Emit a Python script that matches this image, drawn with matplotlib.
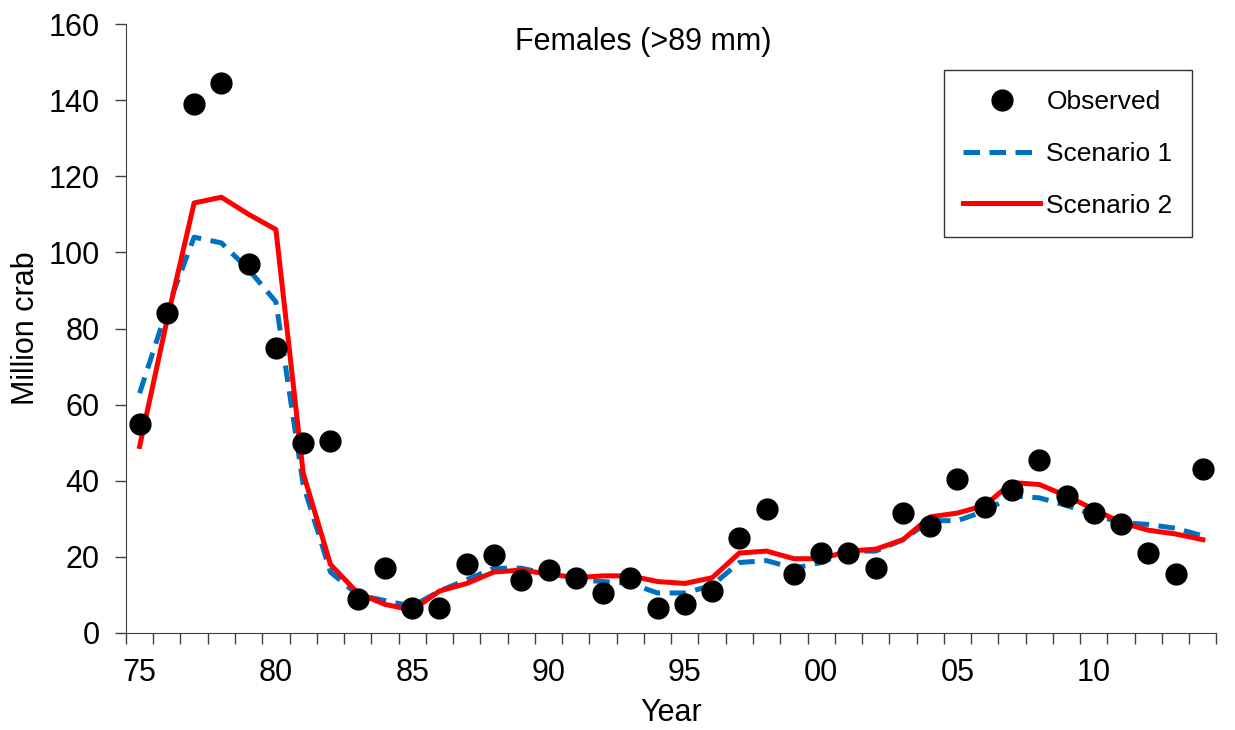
import numpy as np
import matplotlib.pyplot as plt

plt.rcParams['font.family'] = ['Liberation Sans', 'DejaVu Sans']

years = list(range(1975, 2015))
observed = [55, 84, 139, 144.5, 97, 75, 50, 50.5, 9, 17,
            6.5, 6.5, 18, 20.5, 14, 16.5, 14.5, 10.5, 14.5, 6.5,
            7.5, 11, 25, 32.5, 15.5, 21, 21, 17, 31.5, 28,
            40.5, 33, 37.5, 45.5, 36, 31.5, 28.5, 21, 15.5, 43]
scenario1 = [63, 85, 104, 102.5, 95.5, 87, 39, 16, 10, 8.5,
             7, 11, 14, 17, 17, 15.5, 14, 13.5, 13, 10.5,
             10.5, 12.5, 18.5, 19, 17, 18.5, 21.5, 21.5, 24.5, 29.5,
             29.5, 32, 36, 35.5, 33.5, 31, 29, 28.5, 27.5, 25.5]
scenario2 = [49, 82, 113, 114.5, 110, 106, 42, 18, 10.5, 7.5,
             6, 11, 13, 16, 16.5, 15.5, 14.5, 15, 15, 13.5,
             13, 14.5, 21, 21.5, 19.5, 19.5, 21.5, 22, 24.5, 30.5,
             31.5, 33.5, 39.5, 39, 36, 32.5, 29, 27, 26, 24.5]
tick_years = ['75', '80', '85', '90', '95', '00', '05', '10']

x = np.arange(len(years))

fig = plt.figure(figsize=(12.35, 7.3), dpi=100)
ax = fig.add_axes([0.102, 0.133, 0.883, 0.834])

ax.plot(x, observed, 'o', color='black', ms=15, label='Observed', zorder=4)
ax.plot(x, scenario1, color='#0070C0', lw=3.6, dashes=(3.3, 1.9), label='Scenario 1', zorder=2)
ax.plot(x, scenario2, color='#FF0000', lw=3.6, label='Scenario 2', zorder=3)

ax.set_xlim(-0.5, len(years) - 0.5)
ax.set_ylim(0, 160)
ax.set_yticks(range(0, 161, 20))
ax.set_xticks(x[::5])
ax.set_xticklabels(tick_years)
ax.set_xticks(np.arange(-0.5, len(years), 1), minor=True)
ax.tick_params(axis='x', which='major', length=0, pad=18, labelsize=22)
ax.tick_params(axis='x', which='minor', length=8, width=1, color='#404040')
ax.tick_params(axis='y', length=8, width=1, color='#404040', labelsize=22, pad=11)

ax.spines['top'].set_visible(False)
ax.spines['right'].set_visible(False)
ax.spines['left'].set_color('#404040')
ax.spines['bottom'].set_color('#404040')

ax.set_xlabel('Year', fontsize=22, labelpad=7)
ax.set_ylabel('Million crab', fontsize=22, labelpad=5)
ax.text(0.474, 0.97, 'Females (>89 mm)', transform=ax.transAxes,
        ha='center', va='center', fontsize=22)

leg = ax.legend(loc='upper right', bbox_to_anchor=(0.978, 0.924), fontsize=19,
                frameon=True, fancybox=False, edgecolor='black',
                handlelength=2.9, borderpad=0.75, labelspacing=1.05,
                handletextpad=0.25, borderaxespad=0)
leg.get_frame().set_linewidth(1.0)

fig.savefig('out.png', dpi=100)
